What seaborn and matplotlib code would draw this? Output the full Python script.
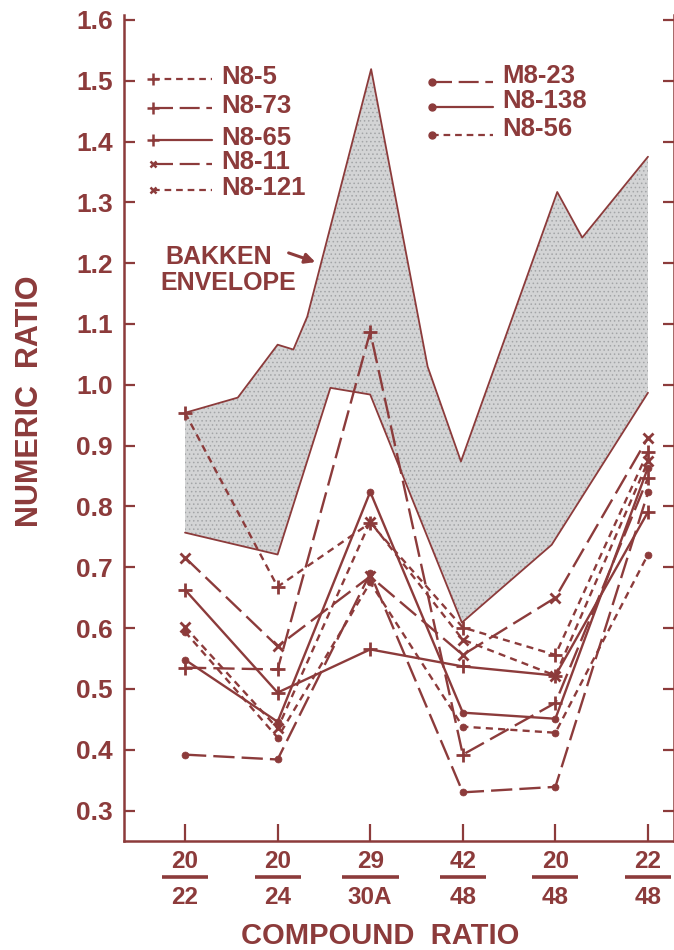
import matplotlib
matplotlib.use("Agg")
import matplotlib.pyplot as plt
import matplotlib.transforms as mtransforms
from matplotlib.lines import Line2D
import pandas as pd
import seaborn as sns

# ---- data -------------------------------------------------------------
numerators = ["20", "20", "29", "42", "20", "22"]
denominators = ["22", "24", "30A", "48", "48", "48"]

n8_5 = [0.954, 0.668, 0.773, 0.601, 0.556, 0.890]
n8_73 = [0.535, 0.532, 1.087, 0.392, 0.477, 0.847]
n8_65 = [0.663, 0.494, 0.565, 0.537, 0.522, 0.791]
n8_11 = [0.716, 0.570, 0.685, 0.556, 0.650, 0.913]
n8_121 = [0.602, 0.435, 0.775, 0.581, 0.522, 0.874]
m8_23 = [0.392, 0.384, 0.690, 0.330, 0.339, 0.823]
n8_138 = [0.548, 0.446, 0.824, 0.461, 0.451, 0.864]
n8_56 = [0.594, 0.420, 0.675, 0.438, 0.428, 0.721]

# Bakken envelope boundaries (x in compound-ratio index units)
env_upper_x = [0.0, 0.57, 1.0, 1.17, 1.32, 2.01, 2.62, 2.98, 4.02, 4.29, 5.0]
env_upper_y = [0.954, 0.979, 1.066, 1.058, 1.112, 1.519, 1.03, 0.874, 1.317, 1.242, 1.375]
env_lower_x = [0.0, 1.0, 1.57, 2.0, 2.99, 3.96, 5.0]
env_lower_y = [0.757, 0.721, 0.995, 0.984, 0.609, 0.737, 0.987]

yticks = [0.3, 0.4, 0.5, 0.6, 0.7, 0.8, 0.9, 1.0, 1.1, 1.2, 1.3, 1.4, 1.5, 1.6]

# ---- styling ----------------------------------------------------------
INK = "#8c3b3b"
SHORT = (0, (3.0, 2.2))
LONG = (0, (9.0, 3.0))
SOLID = "-"

series = [
    ("N8-5", n8_5, "+", SHORT),
    ("N8-73", n8_73, "+", LONG),
    ("N8-65", n8_65, "+", SOLID),
    ("N8-11", n8_11, "x", LONG),
    ("N8-121", n8_121, "x", SHORT),
    ("M8-23", m8_23, "o", LONG),
    ("N8-138", n8_138, "o", SOLID),
    ("N8-56", n8_56, "o", SHORT),
]
marker_size = {"+": 10, "x": 7, "o": 5}

sns.set_style("ticks")
plt.rcParams["font.family"] = ["Liberation Sans", "DejaVu Sans"]
plt.rcParams["font.weight"] = "bold"
plt.rcParams["hatch.linewidth"] = 0.6

W, H = 674, 950
fig = plt.figure(figsize=(W / 100, H / 100), dpi=100)
ax = fig.add_axes([124 / W, 109 / H, 550 / W, 826 / H])

positions = list(range(len(numerators)))
frames = []
for name, vals, mk, ls in series:
    frames.append(pd.DataFrame({"pos": positions, "ratio": vals, "sample": name}))
df = pd.concat(frames, ignore_index=True)

# envelope shading
poly_x = env_upper_x + env_lower_x[::-1]
poly_y = env_upper_y + env_lower_y[::-1]
ax.fill(poly_x, poly_y, facecolor="#d3d4d5", edgecolor="#a3a5a7",
        hatch="....", linewidth=0, zorder=1)
sns.lineplot(x=env_upper_x, y=env_upper_y, color=INK, lw=1.3, sort=False,
             ax=ax, zorder=2)
sns.lineplot(x=env_lower_x, y=env_lower_y, color=INK, lw=1.3, sort=False,
             ax=ax, zorder=2)

for name, vals, mk, ls in series:
    sub = df[df["sample"] == name]
    sns.lineplot(data=sub, x="pos", y="ratio", color=INK, lw=1.7,
                 linestyle=ls, marker=mk, markersize=marker_size[mk],
                 markeredgecolor=INK, markerfacecolor=INK,
                 markeredgewidth=2.0 if mk != "o" else 0.5,
                 ax=ax, zorder=3)

# ---- axes -------------------------------------------------------------
ax.set_xlim(-0.659, 5.281)
ax.set_ylim(0.25, 1.608)
ax.set_yticks(yticks)
ax.set_yticklabels([f"{v:.1f}" for v in yticks])
ax.set_xticks(positions)
ax.set_xticklabels([])
ax.set_xlabel("")
ax.set_ylabel("")
for side in ("left", "bottom", "right"):
    ax.spines[side].set_color(INK)
    ax.spines[side].set_linewidth(1.8)
ax.spines["top"].set_visible(False)
ax.tick_params(axis="y", direction="in", length=8, width=1.6, color=INK,
               labelcolor=INK, labelsize=19, pad=8, right=True)
ax.tick_params(axis="x", direction="in", length=12, width=1.6, color=INK)

# fraction-style compound labels
blend = mtransforms.blended_transform_factory(ax.transData, ax.transAxes)
for i, (num, den) in enumerate(zip(numerators, denominators)):
    ax.text(i, -0.0254, num, transform=blend, ha="center", va="center",
            fontsize=17.5, color=INK)
    ax.text(i, -0.0678, den, transform=blend, ha="center", va="center",
            fontsize=17.5, color=INK)
    half = (11 * max(len(num), len(den)) + 24) / 2 / 92.6
    ax.plot([i - half, i + half], [-0.0436, -0.0436], transform=blend,
            color=INK, lw=2.6, clip_on=False, solid_capstyle="butt")

fig.text(380 / W, 1 - 936 / H, "COMPOUND  RATIO", ha="center", va="center",
         fontsize=21, color=INK)
fig.text(30 / W, 1 - 401 / H, "NUMERIC  RATIO", ha="center", va="center",
         rotation=90, fontsize=22, color=INK)

# ---- legend, drawn in figure pixels ----------------------------------
def fx(px):
    return px / W


def fy(py):
    return 1 - py / H


left_rows = [75, 104, 136, 160, 186]
right_rows = [80, 105, 133]
for (name, vals, mk, ls), row in zip(series[:5], left_rows):
    fig.add_artist(Line2D([fx(153), fx(212)], [fy(row + 4), fy(row + 4)],
                          color=INK, lw=1.6, linestyle=ls))
    fig.add_artist(Line2D([fx(153)], [fy(row + 4)], marker=mk,
                          markersize=marker_size[mk] - 2, color=INK,
                          markeredgewidth=1.8, linestyle="none"))
    fig.text(fx(221), fy(row + 2), name, ha="left", va="center",
             fontsize=18.5, color=INK)
for (name, vals, mk, ls), row in zip(series[5:], right_rows):
    fig.add_artist(Line2D([fx(432), fx(493)], [fy(row + 2), fy(row + 2)],
                          color=INK, lw=1.6, linestyle=ls))
    fig.add_artist(Line2D([fx(432)], [fy(row + 2)], marker=mk,
                          markersize=marker_size[mk], color=INK,
                          linestyle="none"))
    fig.text(fx(502), fy(row - 4), name, ha="left", va="center",
             fontsize=18.5, color=INK)

# envelope annotation
fig.text(fx(165), fy(257), "BAKKEN", ha="left", va="center",
         fontsize=18, color=INK)
fig.text(fx(160), fy(283), "ENVELOPE", ha="left", va="center",
         fontsize=18, color=INK)
ax.annotate("", xy=(fx(318), fy(263)), xytext=(fx(286), fy(252)),
            xycoords="figure fraction", textcoords="figure fraction",
            arrowprops=dict(arrowstyle="-|>,head_length=0.6,head_width=0.3",
                            color=INK, lw=2.2))

fig.savefig("out.png", dpi=100)
